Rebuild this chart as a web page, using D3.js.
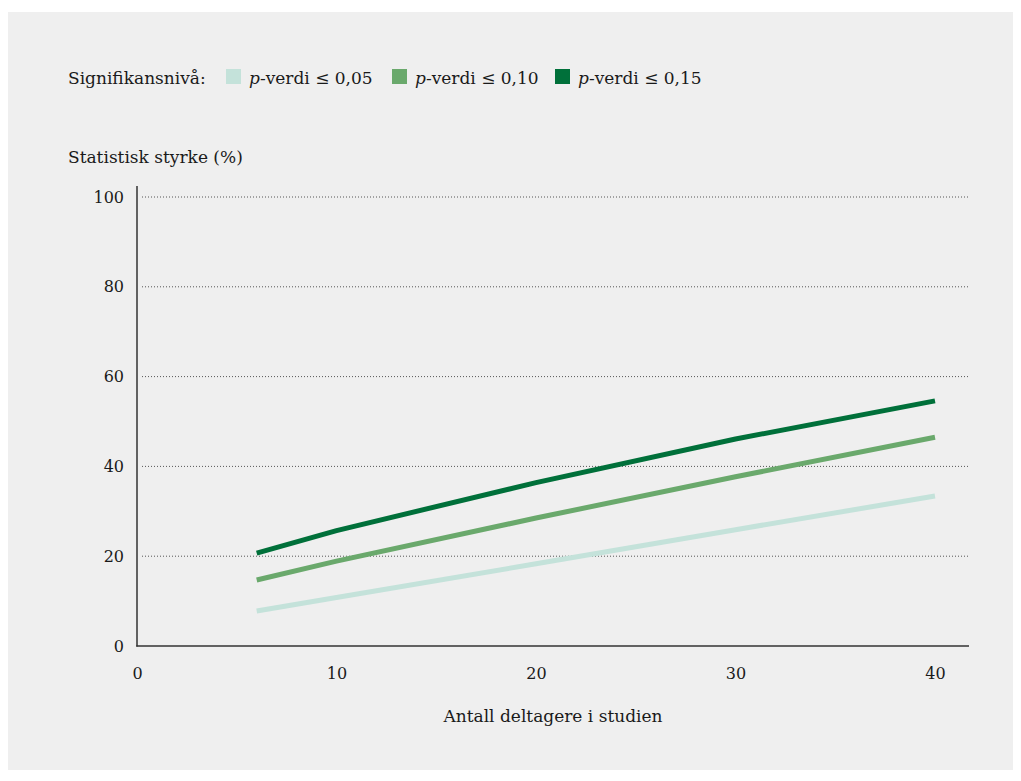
<!DOCTYPE html>
<html><head><meta charset="utf-8">
<script src="https://cdn.jsdelivr.net/npm/d3@7"></script>
<style>
html,body{margin:0;padding:0;background:#fff;}
svg{display:block;}
text{font-family:"DejaVu Serif","Liberation Serif",serif;fill:#1a1a1a;}
</style></head>
<body>
<svg id="c" width="1021" height="781"></svg>
<script>
const xValues = [6, 10, 20, 30, 40];
const series005 = [7.8, 10.8, 18.3, 25.9, 33.4];
const series010 = [14.7, 18.9, 28.5, 37.7, 46.5];
const series015 = [20.7, 25.7, 36.4, 46.1, 54.6];
const seriesNames = ["≤ 0,05", "≤ 0,10", "≤ 0,15"];
const seriesColors = ["#c4e2da", "#6aa96c", "#00703a"];
const xTicks = [0, 10, 20, 30, 40];
const yTicks = [0, 20, 40, 60, 80, 100];

const svg = d3.select("#c");
svg.append("rect").attr("x",8).attr("y",12).attr("width",1005).attr("height",758).attr("fill","#efefef");

const x = d3.scaleLinear().domain([0,40]).range([137,935]);
const y = d3.scaleLinear().domain([0,100]).range([646,197]);

// gridlines
svg.append("g").selectAll("line").data(yTicks.filter(d=>d>0)).join("line")
  .attr("x1",142).attr("x2",970).attr("y1",d=>y(d)).attr("y2",d=>y(d))
  .attr("stroke","#555").attr("stroke-width",1).attr("stroke-dasharray","1,2");

// y axis
const yAxis = d3.axisLeft(y).tickValues(yTicks).tickSize(0).tickPadding(13).tickFormat(d3.format("d"));
const gy = svg.append("g").attr("transform","translate(137,0)").call(yAxis);
gy.select(".domain").remove();
gy.selectAll("text").style("font-size","16px").attr("fill","#1a1a1a");
svg.append("line").attr("x1",137).attr("x2",137).attr("y1",186).attr("y2",646.5).attr("stroke","#333").attr("stroke-width",1.5);

// x axis
const xAxis = d3.axisBottom(x).tickValues(xTicks).tickSize(0).tickPadding(22).tickFormat(d3.format("d"));
const gx = svg.append("g").attr("transform","translate(0,646)").call(xAxis);
gx.select(".domain").remove();
gx.selectAll("text").style("font-size","16px").attr("fill","#1a1a1a");
svg.append("line").attr("x1",136.25).attr("x2",969).attr("y1",646).attr("y2",646).attr("stroke","#333").attr("stroke-width",1.5);

// lines
const line = d3.line().x((d,i)=>x(xValues[i])).y(d=>y(d));
[series005, series010, series015].forEach((s,i)=>{
  svg.append("path").datum(s).attr("d",line).attr("fill","none")
    .attr("stroke",seriesColors[i]).attr("stroke-width",5).attr("stroke-linejoin","round");
});

// titles
svg.append("text").attr("x",68).attr("y",163).style("font-size","17px").text("Statistisk styrke (%)");
svg.append("text").attr("x",553).attr("y",722).attr("text-anchor","middle").style("font-size","17px").text("Antall deltagere i studien");

// legend
const lg = svg.append("g");
lg.append("text").attr("x",68).attr("y",84).style("font-size","17px").text("Signifikansnivå:");
const legX = [226, 392, 555];
seriesNames.forEach((n,i)=>{
  lg.append("rect").attr("x",legX[i]).attr("y",69).attr("width",15).attr("height",15).attr("fill",seriesColors[i]);
  const t = lg.append("text").attr("x",legX[i]+23).attr("y",84).style("font-size","17px");
  t.append("tspan").style("font-style","italic").text("p");
  t.append("tspan").text("-verdi " + n);
});
</script>
</body></html>
